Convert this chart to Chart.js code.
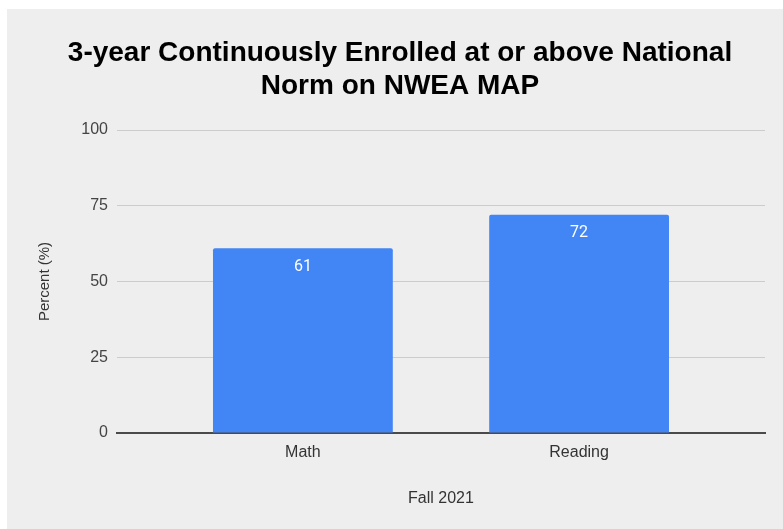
<!DOCTYPE html>
<html>
<head>
<meta charset="utf-8">
<script src="https://cdn.jsdelivr.net/npm/chart.js@4/dist/chart.umd.min.js"></script>
<style>
  html, body { margin: 0; padding: 0; background: #ffffff; }
  #wrap { width: 783px; height: 529px; position: relative; }
</style>
</head>
<body>
<div id="wrap"><canvas id="c" width="783" height="529"></canvas></div>
<script>
const chartTitle = ['3-year Continuously Enrolled at or above National', 'Norm on NWEA MAP'];
const categories = ['Math', 'Reading'];
const values = [61, 72];
const yTicks = [0, 25, 50, 75, 100];
const xAxisTitle = 'Fall 2021';
const yAxisTitle = 'Percent (%)';

const FONT = "'Liberation Sans', Arial, sans-serif";

const bgPlugin = {
  id: 'bg',
  beforeDraw(chart) {
    const ctx = chart.ctx;
    ctx.save();
    ctx.fillStyle = '#ffffff';
    ctx.fillRect(0, 0, chart.width, chart.height);
    ctx.fillStyle = '#eeeeee';
    ctx.fillRect(7, 9, chart.width - 7, chart.height - 9);
    ctx.restore();
  }
};

const labelPlugin = {
  id: 'barLabels',
  afterDatasetsDraw(chart) {
    const ctx = chart.ctx;
    const meta = chart.getDatasetMeta(0);
    ctx.save();
    ctx.fillStyle = '#ffffff';
    ctx.font = "16px Roboto, 'Liberation Sans', Arial, sans-serif";
    ctx.textAlign = 'center';
    ctx.textBaseline = 'middle';
    meta.data.forEach((bar, i) => {
      ctx.fillText(String(values[i]), bar.x, bar.y + 18.5);
    });
    ctx.restore();
  }
};

new Chart(document.getElementById('c'), {
  type: 'bar',
  data: {
    datasets: [{
      data: values.map((v, i) => ({ x: i + 1, y: v })),
      backgroundColor: '#4285f4',
      borderWidth: 0,
      borderRadius: 2,
      borderSkipped: 'start',
      categoryPercentage: 0.651,
      barPercentage: 1
    }]
  },
  options: {
    responsive: false,
    animation: false,
    devicePixelRatio: 1,
    layout: { padding: { left: 35, right: 18, top: 0, bottom: 0 } },
    plugins: {
      legend: { display: false },
      tooltip: { enabled: false },
      title: {
        display: true,
        text: chartTitle,
        color: '#000000',
        font: { family: FONT, size: 28, weight: 'bold', lineHeight: 1.2 },
        padding: { top: 36, bottom: 26.8 }
      }
    },
    scales: {
      x: {
        type: 'linear',
        offset: false,
        bounds: 'data',
        min: 0.327,
        max: 2.673,
        afterBuildTicks(scale) {
          scale.ticks = categories.map((c, i) => ({ value: i + 1 }));
        },
        afterFit(scale) { scale.height = 96; },
        ticks: {
          color: '#333333',
          font: { family: FONT, size: 16 },
          padding: 10,
          maxRotation: 0,
          autoSkip: false,
          callback: (v) => categories[Math.round(v) - 1] || ''
        },
        grid: { display: false, drawTicks: false, offset: false },
        border: { display: true, color: '#4a4a4a', width: 2 },
        title: {
          display: true,
          text: xAxisTitle,
          color: '#333333',
          font: { family: FONT, size: 16 },
          padding: { top: 0, bottom: 20.4 }
        }
      },
      y: {
        min: 0,
        max: 100,
        afterBuildTicks(scale) {
          scale.ticks = yTicks.map(v => ({ value: v }));
        },
        afterFit(scale) { scale.width = 82; },
        ticks: {
          color: '#444444',
          font: { family: FONT, size: 16 },
          padding: 9
        },
        grid: { color: '#cccccc', lineWidth: 1, drawTicks: false },
        border: { display: false },
        title: {
          display: true,
          text: yAxisTitle,
          color: '#333333',
          font: { family: FONT, size: 15 },
          padding: { top: 1, bottom: 0 }
        }
      }
    }
  },
  plugins: [bgPlugin, labelPlugin]
});
</script>
</body>
</html>
